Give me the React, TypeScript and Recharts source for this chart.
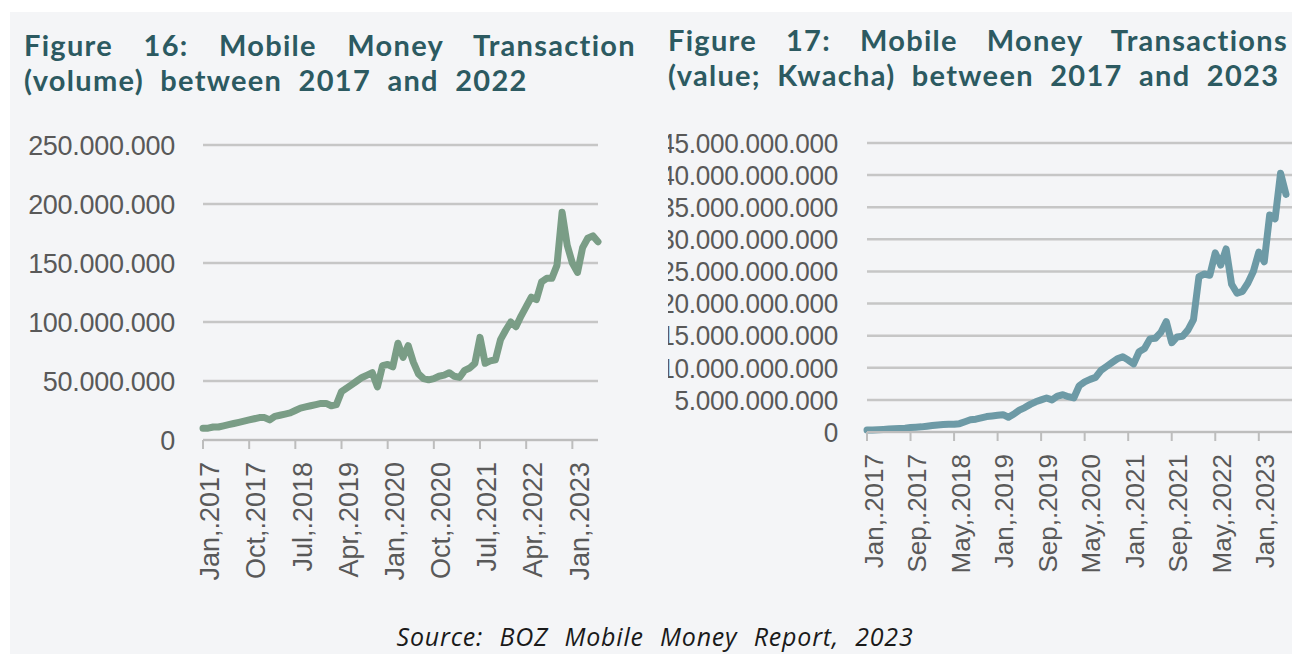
import { CartesianGrid, Line, LineChart, XAxis, YAxis } from 'recharts';

const monthNames = ['Jan', 'Feb', 'Mar', 'Apr', 'May', 'Jun', 'Jul', 'Aug', 'Sep', 'Oct', 'Nov', 'Dec'];

// Jan 2017 .. Jun 2023, one entry per month
const months: string[] = [];
for (let y = 2017; y <= 2023; y++) {
  for (const m of monthNames) {
    if (y === 2023 && months.length >= 78) break;
    months.push(`${m},.${y}`);
  }
}

// Figure 16: transaction volume (millions)
const volumeMillions = [
  10, 10, 11, 11, 12, 13, 14, 15, 16, 17, 18, 19,
  19, 17, 20, 21, 22, 23, 25, 27, 28, 29, 30, 31,
  31, 29, 30, 41, 44, 47, 50, 53, 55, 57, 45, 63,
  64, 62, 82, 70, 80, 66, 56, 52, 51, 52, 54, 55,
  57, 54, 53, 59, 61, 65, 87, 65, 67, 68, 85, 93,
  100, 96, 105, 113, 121, 119, 134, 137, 137, 148, 193, 165,
  150, 142, 163, 171, 173, 168,
];

// Figure 17: transaction value (billions of Kwacha)
const valueBillions = [
  0.3, 0.3, 0.35, 0.4, 0.45, 0.5, 0.55, 0.6, 0.7, 0.75, 0.8, 0.9,
  1.0, 1.1, 1.15, 1.2, 1.2, 1.3, 1.6, 1.9, 2.0, 2.2, 2.4, 2.5,
  2.6, 2.7, 2.3, 2.8, 3.4, 3.8, 4.3, 4.7, 5.0, 5.3, 5.0, 5.6,
  5.8, 5.5, 5.3, 7.2, 7.8, 8.2, 8.5, 9.6, 10.2, 10.8, 11.4, 11.7,
  11.2, 10.6, 12.5, 13.0, 14.5, 14.6, 15.5, 17.2, 13.9, 14.8, 14.9, 15.9,
  17.5, 24.2, 24.6, 24.4, 27.9, 26.0, 28.5, 23.0, 21.6, 21.9, 23.2, 25.0,
  28.0, 26.5, 33.8, 33.2, 40.3, 37.0,
];

const volumeTicks = [0, 50e6, 100e6, 150e6, 200e6, 250e6];
const valueTicks = [0, 5e9, 10e9, 15e9, 20e9, 25e9, 30e9, 35e9, 40e9, 45e9];

const volumeData = months.map((month, i) => ({ month, volume: volumeMillions[i] * 1e6 }));
const valueData = months.map((month, i) => ({ month, value: valueBillions[i] * 1e9 }));

const dotted = (v: number) => String(Math.round(v)).replace(/\B(?=(\d{3})+(?!\d))/g, '.');

const LABEL = '#595959';
const GRID = '#c6c6c6';
const BG = '#f4f5f7';
const TITLE = '#2c5a61';
const tickFont = '"Liberation Sans", Arial, sans-serif';

function YTick({ x, y, payload, fontSize, squeeze }: any) {
  return (
    <text
      transform={`translate(${x},${y}) scale(${squeeze},1)`}
      dy="0.36em"
      textAnchor="end"
      fill={LABEL}
      fontSize={fontSize}
      fontFamily={tickFont}
      letterSpacing={-0.3}
    >
      {dotted(payload.value)}
    </text>
  );
}

function XTick({ x, y, payload, fontSize }: any) {
  return (
    <g transform={`translate(${x},${y + 11})`}>
      <text transform="rotate(-90)" dy="0.6em" textAnchor="end" fill={LABEL} fontSize={fontSize} fontFamily={tickFont}>
        {payload.value}
      </text>
    </g>
  );
}

const titleStyle: React.CSSProperties = {
  position: 'absolute',
  margin: 0,
  fontFamily: 'Lato, "Noto Sans", sans-serif',
  fontWeight: 700,
  fontSize: 29,
  lineHeight: '35px',
  color: TITLE,
  textAlign: 'justify',
  wordSpacing: 8,
  letterSpacing: 1.3,
};

export default function App() {
  return (
    <div style={{ position: 'absolute', left: 0, top: 0, width: 1292, height: 654, background: '#fff', overflow: 'hidden' }}>
      <div style={{ position: 'absolute', left: 10, top: 12, right: 0, bottom: 0, background: BG }} />

      <div style={{ ...titleStyle, left: 24, top: 27, width: 612 }}>
        Figure 16: Mobile Money Transaction (volume) between 2017 and 2022
      </div>
      <div style={{ ...titleStyle, left: 668, top: 22, width: 620 }}>
        Figure 17: Mobile Money Transactions (value; Kwacha) between 2017 and 2023
      </div>

      <div style={{ position: 'absolute', left: 0, top: 0 }}>
        <LineChart width={640} height={654} data={volumeData} margin={{ top: 145, right: 42, bottom: 0, left: 0 }}>
          <CartesianGrid vertical={false} stroke={GRID} strokeWidth={2.5} />
          <XAxis
            dataKey="month"
            interval={8}
            height={214}
            axisLine={{ stroke: '#bdbdbd', strokeWidth: 2 }}
            tickLine={{ stroke: '#bdbdbd', strokeWidth: 2 }}
            tickSize={9}
            tick={<XTick fontSize={27} />}
          />
          <YAxis
            width={203}
            domain={[0, 250e6]}
            ticks={volumeTicks}
            axisLine={false}
            tickLine={false}
            tickMargin={22}
            tick={<YTick fontSize={27} squeeze={1} />}
          />
          <Line
            dataKey="volume"
            type="linear"
            stroke="#7a9d86"
            strokeWidth={7}
            strokeLinejoin="round"
            strokeLinecap="round"
            dot={false}
            isAnimationActive={false}
          />
        </LineChart>
      </div>

      <div style={{ position: 'absolute', left: 668, top: 0, width: 624, height: 654, overflow: 'hidden' }}>
        <LineChart width={650} height={654} data={valueData} margin={{ top: 143, right: 0, bottom: 0, left: 0 }}>
          <CartesianGrid vertical={false} stroke={GRID} strokeWidth={2.5} />
          <XAxis
            dataKey="month"
            interval={7}
            height={222}
            padding={{ left: 0, right: 32 }}
            axisLine={{ stroke: '#bdbdbd', strokeWidth: 2 }}
            tickLine={{ stroke: '#bdbdbd', strokeWidth: 2 }}
            tickSize={9}
            tick={<XTick fontSize={26} />}
          />
          <YAxis
            width={199}
            domain={[0, 45e9]}
            ticks={valueTicks}
            axisLine={false}
            tickLine={false}
            tickMargin={23}
            tick={<YTick fontSize={27} squeeze={0.97} />}
          />
          <Line
            dataKey="value"
            type="linear"
            stroke="#6d9aa6"
            strokeWidth={7}
            strokeLinejoin="round"
            strokeLinecap="round"
            dot={false}
            isAnimationActive={false}
          />
        </LineChart>
      </div>

      <div
        style={{
          position: 'absolute',
          left: 0,
          width: 1310,
          top: 619,
          textAlign: 'center',
          fontFamily: '"Open Sans", sans-serif',
          fontStyle: 'italic',
          fontSize: 25,
          letterSpacing: 0.8,
          wordSpacing: 9,
          color: '#1a1a1a',
        }}
      >
        Source: BOZ Mobile Money Report, 2023
      </div>
    </div>
  );
}
